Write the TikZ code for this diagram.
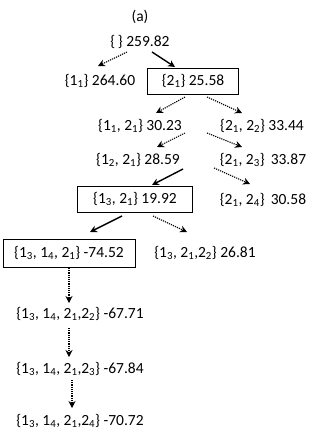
\documentclass[tikz,border=0pt]{standalone}
\usepackage{fontspec}
\setmainfont{Carlito}
\usetikzlibrary{arrows.meta}
\newcommand{\ssub}[2]{#1\textsubscript{#2}}
\begin{document}
\begin{tikzpicture}[x=1pt,y=-1pt,
  lab/.style={inner sep=0pt,font=\fontsize{15.5}{17}\selectfont},
  boxed/.style={lab,draw,line width=0.8pt,minimum height=26pt,inner xsep=6pt},
  dotarr/.style={-{Stealth[length=7pt,width=7pt]},line width=1.1pt,dash pattern=on 1.2pt off 1pt},
  solarr/.style={-{Stealth[length=7pt,width=7pt]},line width=1.4pt}]
\useasboundingbox (0,0) rectangle (327,439);
\node[lab] (title) at (140,17) {(a)};
\node[lab] (root) at (140,42) {\{\,\} 259.82};
\node[lab] (a1) at (100,81) {\{\ssub{1}{1}\} 264.60};
\node[boxed,minimum width=91pt] (a2) at (193,81) {\{\ssub{2}{1}\} 25.58};
\node[lab] (b1) at (140,126) {\{\ssub{1}{1}, \ssub{2}{1}\} 30.23};
\node[lab] (b2) at (262,126) {\{\ssub{2}{1}, \ssub{2}{2}\} 33.44};
\node[lab] (c1) at (138,160) {\{\ssub{1}{2}, \ssub{2}{1}\} 28.59};
\node[lab] (c2) at (263,160) {\{\ssub{2}{1}, \ssub{2}{3}\}\, 33.87};
\node[boxed,minimum width=115pt] (d1) at (135,199) {\{\ssub{1}{3}, \ssub{2}{1}\} 19.92};
\node[lab] (d2) at (263,200) {\{\ssub{2}{1}, \ssub{2}{4}\}\, 30.58};
\node[boxed,minimum width=132pt,minimum height=28pt] (e1) at (69,253) {\{\ssub{1}{3}, \ssub{1}{4}, \ssub{2}{1}\} -74.52};
\node[lab] (e2) at (205,253) {\{\ssub{1}{3}, \ssub{2}{1},\ssub{2}{2}\} 26.81};
\node[lab] (f1) at (80,314) {\{\ssub{1}{3}, \ssub{1}{4}, \ssub{2}{1},\ssub{2}{2}\} -67.71};
\node[lab] (g1) at (80,369) {\{\ssub{1}{3}, \ssub{1}{4}, \ssub{2}{1},\ssub{2}{3}\} -67.84};
\node[lab] (h1) at (80,421) {\{\ssub{1}{3}, \ssub{1}{4}, \ssub{2}{1},\ssub{2}{4}\} -70.72};
\coordinate (r1) at (127,52); \coordinate (r2) at (152,52);
\coordinate (a21) at (185,97); \coordinate (a22) at (207,97);
\coordinate (b11) at (185,133); \coordinate (b12) at (207,133);
\coordinate (c11) at (183,169); \coordinate (c12) at (214,168);
\coordinate (d11) at (122,216); \coordinate (d12) at (153,216);
\coordinate (e11) at (69,268); \coordinate (f11) at (69,328); \coordinate (g11) at (72,380);
\coordinate (ta1) at (98,66); \coordinate (ta2) at (175,67);
\coordinate (tb1) at (156,113); \coordinate (tb2) at (242,113);
\coordinate (tc1) at (157,147); \coordinate (tc2) at (242,147);
\coordinate (td1) at (152,185); \coordinate (td2) at (250,184);
\coordinate (te1) at (90,232); \coordinate (te2) at (187,232);
\coordinate (tf1) at (69,303); \coordinate (tg1) at (69,357); \coordinate (th1) at (72,408);
\draw[dotarr] (r1) -- (ta1);
\draw[solarr] (r2) -- (ta2);
\draw[dotarr] (a21) -- (tb1);
\draw[dotarr] (a22) -- (tb2);
\draw[dotarr] (b11) -- (tc1);
\draw[dotarr] (b12) -- (tc2);
\draw[solarr] (c11) -- (td1);
\draw[dotarr] (c12) -- (td2);
\draw[solarr] (d11) -- (te1);
\draw[dotarr] (d12) -- (te2);
\draw[dotarr] (e11) -- (tf1);
\draw[dotarr] (f11) -- (tg1);
\draw[dotarr] (g11) -- (th1);
\end{tikzpicture}
\end{document}
